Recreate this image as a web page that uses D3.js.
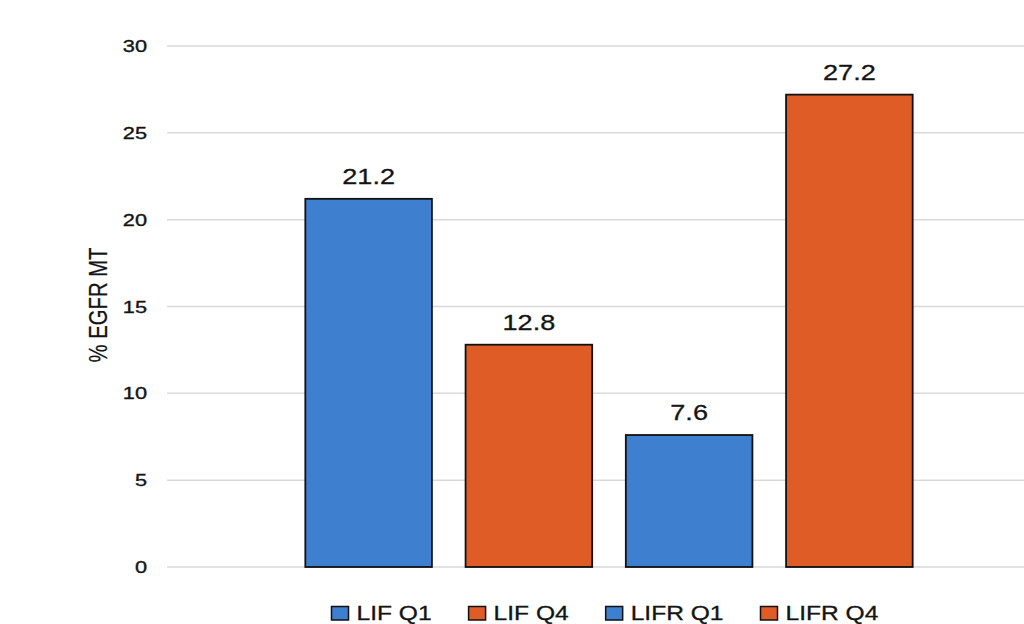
<!DOCTYPE html>
<html>
<head>
<meta charset="utf-8">
<script src="https://cdn.jsdelivr.net/npm/d3@7"></script>
<style>
  html, body { margin: 0; padding: 0; background: #fff; }
  svg { display: block; font-family: "Liberation Sans", Arial, Helvetica, sans-serif; }
</style>
</head>
<body>
<svg id="chart" width="1024" height="624"></svg>
<script>
// Share of EGFR-mutant cases by LIF / LIFR expression quartile
const categories = ["LIF Q1", "LIF Q4", "LIFR Q1", "LIFR Q4"];
const values = [21.2, 12.8, 7.6, 27.2];
const colors = ["#3e7fd0", "#e05c27", "#3e7fd0", "#e05c27"];
const yTicks = [0, 5, 10, 15, 20, 25, 30];
const yTitle = "% EGFR MT";

// all lettering is drawn slightly widened
const SX = 1.26;
const textInk = "#141414";

const svg = d3.select("#chart");

const gridLeft = 167, gridRight = 1024;
const y = d3.scaleLinear().domain([0, 30]).range([567, 46]);
const x = d3.scaleBand()
  .domain(categories)
  .range([288.5, 929.5])
  .paddingInner(0.21)
  .paddingOuter(0.105);

// horizontal gridlines
svg.append("g")
  .selectAll("line")
  .data(yTicks)
  .join("line")
  .attr("x1", gridLeft).attr("x2", gridRight)
  .attr("y1", d => y(d)).attr("y2", d => y(d))
  .attr("stroke", "#d9d9d9")
  .attr("stroke-width", 1.5);

// y axis tick labels
const yAxis = d3.axisLeft(y).tickValues(yTicks).tickSize(0).tickPadding(0);
const yg = svg.append("g")
  .attr("transform", "translate(147,0)")
  .call(yAxis);
yg.select(".domain").remove();
yg.selectAll("text")
  .attr("x", 0)
  .attr("font-family", "'Liberation Sans', Arial, sans-serif")
  .attr("font-size", 17.3)
  .attr("fill", textInk)
  .attr("stroke", textInk)
  .attr("stroke-width", 0.35)
  .attr("transform", `scale(${SX},1)`);

// y axis title
svg.append("text")
  .attr("transform", `translate(107,305) scale(${SX},1) rotate(-90)`)
  .attr("text-anchor", "middle")
  .attr("font-size", 20.3)
  .attr("fill", textInk)
  .attr("stroke", textInk)
  .attr("stroke-width", 0.2)
  .text(yTitle);

// bars
svg.append("g")
  .selectAll("rect")
  .data(categories)
  .join("rect")
  .attr("x", d => x(d))
  .attr("width", x.bandwidth())
  .attr("y", (d, i) => y(values[i]))
  .attr("height", (d, i) => y(0) - y(values[i]))
  .attr("fill", (d, i) => colors[i])
  .attr("stroke", "#111")
  .attr("stroke-width", 1.8);

// value labels above bars
svg.append("g")
  .selectAll("text")
  .data(categories)
  .join("text")
  .attr("transform", (d, i) =>
    `translate(${x(d) + x.bandwidth() / 2},${y(values[i]) - 15}) scale(${SX},1)`)
  .attr("text-anchor", "middle")
  .attr("font-size", 21.5)
  .attr("fill", textInk)
  .attr("stroke", textInk)
  .attr("stroke-width", 0.3)
  .text((d, i) => values[i].toFixed(1));

// legend: swatch + label, laid out left to right
const legendStart = 331.5, swatchW = 17, swatchH = 13.5, swatchGap = 8, itemGap = 37;
const legend = svg.append("g");
const items = legend.selectAll("g")
  .data(categories)
  .join("g");
items.append("rect")
  .attr("x", 0).attr("y", 606.5)
  .attr("width", swatchW).attr("height", swatchH)
  .attr("fill", (d, i) => colors[i])
  .attr("stroke", "#111")
  .attr("stroke-width", 1.5);
items.append("text")
  .attr("transform", `translate(${swatchW + swatchGap},620) scale(${SX},1)`)
  .attr("font-size", 19.5)
  .attr("fill", textInk)
  .attr("stroke", textInk)
  .attr("stroke-width", 0.3)
  .text(d => d);
let cursor = legendStart;
items.each(function () {
  const g = d3.select(this);
  g.attr("transform", `translate(${cursor},0)`);
  const w = g.select("text").node().getComputedTextLength() * SX;
  cursor += swatchW + swatchGap + w + itemGap;
});
</script>
</body>
</html>
